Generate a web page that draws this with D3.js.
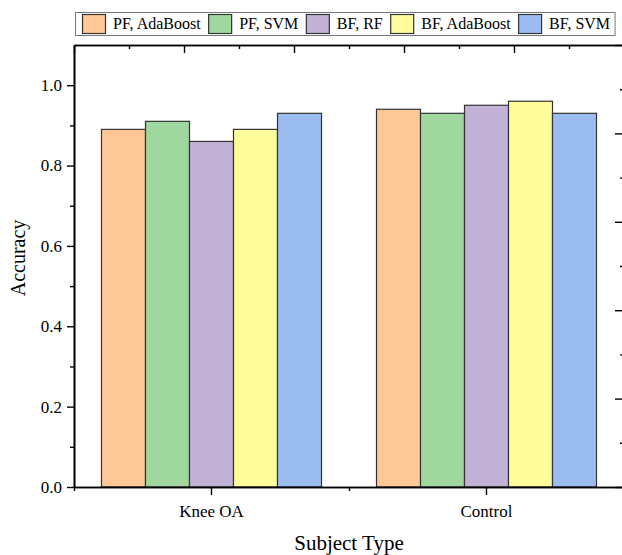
<!DOCTYPE html>
<html>
<head>
<meta charset="utf-8">
<script src="https://cdn.jsdelivr.net/npm/d3@7/dist/d3.min.js"></script>
<style>
  html, body { margin: 0; padding: 0; background: #fff; }
  svg { display: block; }
  text { font-family: "Liberation Serif", "Times New Roman", serif; fill: #000; }
</style>
</head>
<body>
<svg id="chart" width="622" height="555"></svg>
<script>
// Subject groups on the x axis
const categories = ["Knee OA", "Control"];
// Feature set / classifier combinations
const seriesNames = ["PF, AdaBoost", "PF, SVM", "BF, RF", "BF, AdaBoost", "BF, SVM"];
const seriesColors = ["#FDC896", "#A0D79E", "#C2B2D7", "#FFFD9B", "#9BBCF1"];
// Accuracy per series, one value per category
const pfAdaBoost = [0.89, 0.94];
const pfSVM      = [0.91, 0.93];
const bfRF       = [0.86, 0.95];
const bfAdaBoost = [0.89, 0.96];
const bfSVM      = [0.93, 0.93];
const seriesValues = [pfAdaBoost, pfSVM, bfRF, bfAdaBoost, bfSVM];
// Y axis ticks
const yMajorTicks = [0.0, 0.2, 0.4, 0.6, 0.8, 1.0];
const yMinorTicks = [0.1, 0.3, 0.5, 0.7, 0.9];

const svg = d3.select("#chart");
const plot = { left: 74, right: 624, top: 45, bottom: 487 };

const x = d3.scaleBand().domain(categories)
  .range([plot.left, plot.right]).paddingInner(0.2).paddingOuter(0.1);
const xSub = d3.scaleBand().domain(seriesNames).range([0, x.bandwidth()]).padding(0);
const y = d3.scaleLinear().domain([0, 1.1]).range([plot.bottom, plot.top]);

// Bars
const rows = [];
categories.forEach((c, ci) => {
  seriesNames.forEach((s, si) => rows.push({ c, s, si, v: seriesValues[si][ci] }));
});
svg.append("g").selectAll("rect").data(rows).join("rect")
  .attr("x", d => x(d.c) + xSub(d.s))
  .attr("y", d => y(d.v))
  .attr("width", xSub.bandwidth())
  .attr("height", d => y(0) - y(d.v))
  .attr("fill", d => seriesColors[d.si])
  .attr("stroke", "#333")
  .attr("stroke-width", 1.2);

// Left axis: major ticks with labels, minor ticks without
const yAxis = svg.append("g").attr("transform", `translate(${plot.left},0)`);
yAxis.call(d3.axisLeft(y).tickValues(yMajorTicks).tickSize(7).tickSizeOuter(0)
  .tickFormat(d3.format(".1f")));
yAxis.append("g").call(d3.axisLeft(y).tickValues(yMinorTicks).tickSize(4)
  .tickSizeOuter(0).tickFormat(""));
yAxis.selectAll("text").attr("font-size", 17).attr("x", -12);

// Bottom axis: category ticks, plus short ticks between and at the ends
const xAxis = svg.append("g").attr("transform", `translate(0,${plot.bottom})`);
xAxis.call(d3.axisBottom(x).tickSize(8).tickSizeOuter(0));
const xMinor = d3.scaleLinear().domain([0, 2]).range([plot.left, plot.right]);
xAxis.append("g").call(d3.axisBottom(xMinor).tickValues([0, 1, 2]).tickSize(4)
  .tickSizeOuter(0).tickFormat(""));
xAxis.selectAll("text").attr("font-size", 17).attr("dy", "1.1em");

// Frame: top and right edges carry inward ticks
const frameX = d3.scaleLinear().domain([0, 10]).range([plot.left, plot.right]);
const frameY = d3.scaleLinear().domain([0, 10]).range([plot.bottom, plot.top]);
const evens = d3.range(0, 11, 2), odds = d3.range(1, 10, 2);
const topFrame = svg.append("g").attr("transform", `translate(0,${plot.top})`);
topFrame.call(d3.axisBottom(frameX).tickValues(evens).tickSize(8).tickSizeOuter(0).tickFormat(""));
topFrame.append("g").call(d3.axisBottom(frameX).tickValues(odds).tickSize(4).tickSizeOuter(0).tickFormat(""));
const rightFrame = svg.append("g").attr("transform", `translate(${plot.right},0)`);
rightFrame.call(d3.axisLeft(frameY).tickValues(evens).tickSize(9).tickSizeOuter(0).tickFormat(""));
rightFrame.append("g").call(d3.axisLeft(frameY).tickValues(odds).tickSize(4).tickSizeOuter(0).tickFormat(""));

svg.selectAll(".domain").attr("stroke", "#000").attr("stroke-width", 1.6);
svg.selectAll(".tick line").attr("stroke", "#000").attr("stroke-width", 1.4);

// Axis titles
svg.append("text")
  .attr("x", (plot.left + plot.right) / 2).attr("y", 550)
  .attr("text-anchor", "middle").attr("font-size", 21)
  .text("Subject Type");
svg.append("text")
  .attr("transform", `translate(25,258) rotate(-90)`)
  .attr("text-anchor", "middle").attr("font-size", 20)
  .text("Accuracy");

// Legend in a single row above the plot
const legend = svg.append("g");
const legendBox = legend.append("rect")
  .attr("x", 75.5).attr("y", 12.5).attr("height", 23)
  .attr("fill", "#fff").attr("stroke", "#777").attr("stroke-width", 1);
let lx = 82;
seriesNames.forEach((name, i) => {
  legend.append("rect")
    .attr("x", lx + 0.5).attr("y", 14.5).attr("width", 23).attr("height", 19)
    .attr("fill", seriesColors[i]).attr("stroke", "#333").attr("stroke-width", 1.2);
  legend.append("text")
    .attr("x", lx + 31).attr("y", 29).attr("font-size", 16)
    .text(name);
  const w = legend.select("text:last-of-type").node().getComputedTextLength();
  lx += 31 + w + 7.5;
});
legendBox.attr("width", Math.min(lx - 78, 543));
</script>
</body>
</html>
